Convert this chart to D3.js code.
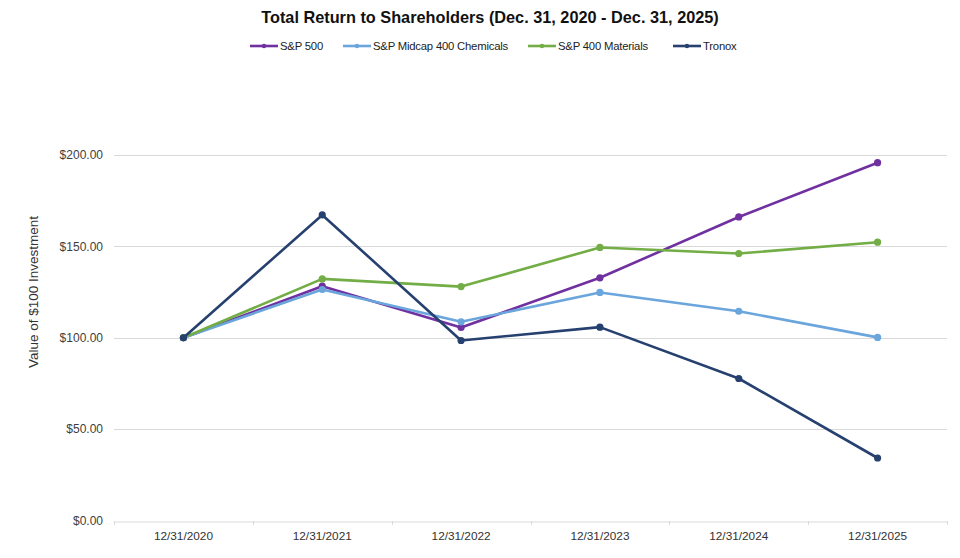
<!DOCTYPE html>
<html>
<head>
<meta charset="utf-8">
<script src="https://cdn.jsdelivr.net/npm/d3@7"></script>
<style>
  body { margin: 0; background: #fff; }
  svg { display: block; font-family: "Liberation Sans", Arial, sans-serif; }
</style>
</head>
<body>
<svg id="chart" width="960" height="558"></svg>
<script>
const categories = ["12/31/2020", "12/31/2021", "12/31/2022", "12/31/2023", "12/31/2024", "12/31/2025"];
const seriesNames = ["S&P 500", "S&P Midcap 400 Chemicals", "S&P 400 Materials", "Tronox"];
const sp500 = [100, 128.2, 105.6, 132.8, 166.1, 195.8];
const midcapChemicals = [100, 126.4, 108.7, 124.8, 114.5, 100.2];
const materials400 = [100, 132.2, 128.0, 149.4, 146.1, 152.3];
const tronox = [100, 167.2, 98.5, 105.8, 77.7, 34.2];
const yTicks = [0, 50, 100, 150, 200];
const colors = ["#7030a0", "#6aa5dc", "#72ad45", "#26406f"];

(function () {
const seriesValues = [sp500, midcapChemicals, materials400, tronox];
const series = seriesNames.map((n, i) => ({ name: n, values: seriesValues[i], color: colors[i] }));

const svg = d3.select("#chart");
const pLeft = 114, pRight = 947, pTop = 155, pBottom = 520.5;

const x = d3.scaleBand().domain(categories).range([pLeft, pRight]).padding(0);
const y = d3.scaleLinear().domain([0, 200]).range([pBottom, pTop]);

// gridlines
svg.append("g").selectAll("line").data(yTicks.filter(d => d > 0)).join("line")
  .attr("x1", pLeft).attr("x2", pRight)
  .attr("y1", d => Math.round(y(d)) + 0.5).attr("y2", d => Math.round(y(d)) + 0.5)
  .attr("stroke", "#d9d9d9").attr("stroke-width", 1);

// y axis labels
const yAxis = d3.axisLeft(y).tickValues(yTicks).tickSize(0).tickPadding(0)
  .tickFormat(d => "$" + d3.format(".2f")(d));
const gy = svg.append("g").attr("transform", `translate(${pLeft - 11},0)`).call(yAxis);
gy.select(".domain").remove();
gy.selectAll("text").attr("fill", "#404040").style("font-size", "12px")
  .style("font-family", "'Liberation Sans', Arial, sans-serif");

// x axis
const xAxis = d3.axisBottom(x).tickSize(0).tickPadding(10);
const gx = svg.append("g").attr("transform", `translate(0,${Math.round(pBottom) + 0.5})`).call(xAxis);
gx.select(".domain").attr("stroke", "#d9d9d9");
gx.selectAll("text").attr("fill", "#333").style("font-size", "11.8px")
  .style("font-family", "'Liberation Sans', Arial, sans-serif");
// category separator ticks
const bounds = categories.map(c => x(c)).concat([x(categories[categories.length - 1]) + x.bandwidth()]);
svg.append("g").selectAll("line").data(bounds).join("line")
  .attr("x1", d => Math.round(d) + 0.5).attr("x2", d => Math.round(d) + 0.5)
  .attr("y1", Math.round(pBottom)).attr("y2", Math.round(pBottom) + 4)
  .attr("stroke", "#d9d9d9");

// y axis title
svg.append("text")
  .attr("transform", "translate(38,292) rotate(-90)")
  .attr("text-anchor", "middle")
  .attr("fill", "#333")
  .style("font-size", "13.5px")
  .text("Value of $100 Investment");

// title
svg.append("text")
  .attr("x", 490).attr("y", 23)
  .attr("text-anchor", "middle")
  .attr("fill", "#111")
  .style("font-size", "16.3px").style("font-weight", "bold")
  .text("Total Return to Shareholders (Dec. 31, 2020 - Dec. 31, 2025)");

// lines
const line = d3.line().x((d, i) => x(categories[i]) + x.bandwidth() / 2).y(d => y(d));
const gs = svg.append("g").selectAll("g").data(series).join("g");
gs.append("path")
  .attr("d", d => line(d.values))
  .attr("fill", "none").attr("stroke", d => d.color)
  .attr("stroke-width", 2.6).attr("stroke-linejoin", "round");
gs.each(function(s) {
  d3.select(this).selectAll("circle").data(s.values).join("circle")
    .attr("cx", (d, i) => x(categories[i]) + x.bandwidth() / 2)
    .attr("cy", d => y(d))
    .attr("r", 3.6).attr("fill", s.color);
});

// legend
const legendX = [250, 343, 528, 673];
const lg = svg.append("g").selectAll("g").data(series).join("g")
  .attr("transform", (d, i) => `translate(${legendX[i]},46)`);
lg.append("line").attr("x1", 0).attr("x2", 28).attr("y1", 0).attr("y2", 0)
  .attr("stroke", d => d.color).attr("stroke-width", 2.6);
lg.append("circle").attr("cx", 14).attr("cy", 0).attr("r", 2.2).attr("fill", d => d.color);
lg.append("text").attr("x", 30).attr("y", 4)
  .attr("fill", "#222").style("font-size", "11.3px").style("letter-spacing", "-0.2px")
  .text(d => d.name);
})();
</script>
</body>
</html>
